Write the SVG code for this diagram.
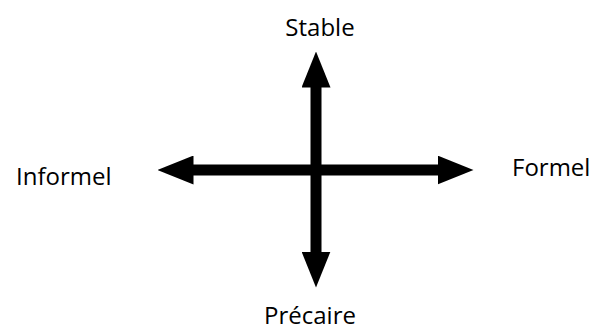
<svg xmlns="http://www.w3.org/2000/svg" width="595" height="331" viewBox="0 0 595 331">
<style>
.lbl{font-family:"Open Sans","Noto Sans",sans-serif;font-size:24px;fill:#000}
.axis{stroke:#000;stroke-width:11;fill:none}
</style>
<defs>
<marker id="ah" markerUnits="userSpaceOnUse" viewBox="0 0 36 29" markerWidth="36" markerHeight="29" refX="0.5" refY="14.5" orient="auto-start-reverse">
<path d="M0,0 L36,14.5 L0,29 z" fill="#000"/>
</marker>
</defs>
<rect width="595" height="331" fill="#fff"/>
<g id="connectors">
<line class="axis" x1="193" y1="170" x2="438" y2="170" marker-start="url(#ah)" marker-end="url(#ah)"/>
<line class="axis" x1="316" y1="87" x2="316" y2="252" marker-start="url(#ah)" marker-end="url(#ah)"/>
</g>
<g id="stable"><text class="lbl" x="320" y="36" text-anchor="middle">Stable</text></g>
<g id="informel"><text class="lbl" x="16" y="185">Informel</text></g>
<g id="formel"><text class="lbl" x="512" y="176">Formel</text></g>
<g id="precaire"><text class="lbl" x="310" y="324" text-anchor="middle">Précaire</text></g>
</svg>
